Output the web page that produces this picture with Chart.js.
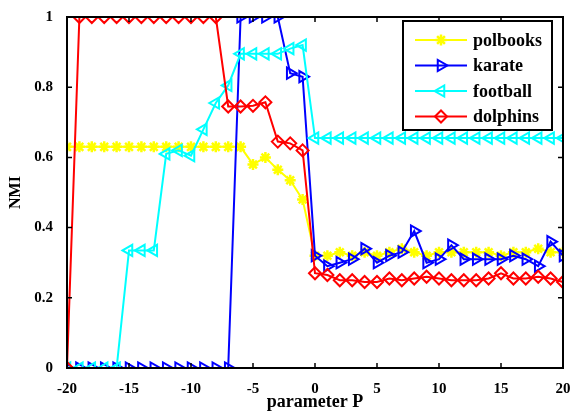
<!DOCTYPE html>
<html>
<head>
<meta charset="utf-8">
<script src="https://cdn.jsdelivr.net/npm/chart.js@4"></script>
<style>
  html, body { margin: 0; padding: 0; background: #fff; }
  #wrap { width: 579px; height: 417px; }
</style>
</head>
<body>
<div id="wrap"><canvas id="nmiChart" width="579" height="417"></canvas></div>
<script>
  const P = [-20, -19, -18, -17, -16, -15, -14, -13, -12, -11, -10, -9, -8, -7, -6, -5, -4, -3, -2, -1,
             0, 1, 2, 3, 4, 5, 6, 7, 8, 9, 10, 11, 12, 13, 14, 15, 16, 17, 18, 19, 20];

  const polbooks = [0.63, 0.63, 0.63, 0.63, 0.63, 0.63, 0.63, 0.63, 0.63, 0.63, 0.63, 0.63, 0.63, 0.63, 0.63,
                    0.58, 0.60, 0.565, 0.535, 0.48,
                    0.32, 0.32, 0.33, 0.32, 0.33, 0.32, 0.33, 0.34, 0.33, 0.32, 0.33, 0.33, 0.33, 0.33, 0.33,
                    0.32, 0.33, 0.33, 0.34, 0.33, 0.33];
  const karate = [0, 0, 0, 0, 0, 0, 0, 0, 0, 0, 0, 0, 0, 0,
                  1, 1, 1, 1, 0.84, 0.83,
                  0.32, 0.29, 0.30, 0.31, 0.34, 0.30, 0.32, 0.33, 0.39, 0.30, 0.31, 0.35, 0.31, 0.31, 0.31,
                  0.31, 0.32, 0.31, 0.29, 0.36, 0.32];
  const football = [0, 0, 0, 0, 0, 0.335, 0.335, 0.335,
                    0.61, 0.62, 0.605, 0.68, 0.755, 0.805, 0.895, 0.895, 0.895, 0.895, 0.91, 0.92,
                    0.655, 0.655, 0.655, 0.655, 0.655, 0.655, 0.655, 0.655, 0.655, 0.655, 0.655, 0.655,
                    0.655, 0.655, 0.655, 0.655, 0.655, 0.655, 0.655, 0.655, 0.655];
  const dolphins = [0, 1, 1, 1, 1, 1, 1, 1, 1, 1, 1, 1, 1,
                    0.745, 0.745, 0.747, 0.757, 0.645, 0.64, 0.62,
                    0.27, 0.265, 0.25, 0.25, 0.245, 0.245, 0.255, 0.25, 0.255, 0.26, 0.255, 0.25, 0.25,
                    0.25, 0.255, 0.27, 0.255, 0.255, 0.26, 0.255, 0.245];

  const xTicks = [-20, -15, -10, -5, 0, 5, 10, 15, 20];
  const yTicks = [0, 0.2, 0.4, 0.6, 0.8, 1];

  const serif = "'Liberation Serif', 'DejaVu Serif', serif";
  const pts = arr => arr.map((v, i) => ({ x: P[i], y: v }));

  // cadre + graduations vers l'intérieur + légende dans le graphe
  const framePlugin = {
    id: 'frame',
    afterDraw(chart) {
      const { ctx, chartArea: a, scales } = chart;
      ctx.save();
      ctx.strokeStyle = '#000';
      ctx.lineWidth = 2;
      ctx.strokeRect(a.left, a.top, a.right - a.left, a.bottom - a.top);
      ctx.lineWidth = 1.5;
      ctx.beginPath();
      xTicks.forEach(t => {
        const x = scales.x.getPixelForValue(t);
        ctx.moveTo(x, a.bottom); ctx.lineTo(x, a.bottom - 5);
        ctx.moveTo(x, a.top); ctx.lineTo(x, a.top + 5);
      });
      yTicks.forEach(t => {
        const y = scales.y.getPixelForValue(t);
        ctx.moveTo(a.left, y); ctx.lineTo(a.left + 5, y);
        ctx.moveTo(a.right, y); ctx.lineTo(a.right - 5, y);
      });
      ctx.stroke();

      // légende
      const bx = 403, by = 21, bw = 149, bh = 109;
      ctx.fillStyle = '#fff';
      ctx.fillRect(bx, by, bw, bh);
      ctx.lineWidth = 2;
      ctx.strokeRect(bx, by, bw, bh);
      chart.data.datasets.forEach((ds, i) => {
        const y = by + 19 + i * 25.5;
        ctx.strokeStyle = ds.borderColor;
        ctx.lineWidth = 2;
        ctx.beginPath();
        ctx.moveTo(415, y); ctx.lineTo(467, y);
        ctx.stroke();
        ctx.fillStyle = 'rgba(0,0,0,0)';
        ctx.lineWidth = ds.pointBorderWidth;
        Chart.helpers.drawPoint(ctx, {
          pointStyle: ds.pointStyle,
          rotation: ds.pointRotation || 0,
          radius: ds.pointRadius,
          borderWidth: ds.pointBorderWidth
        }, 441, y);
        ctx.fillStyle = '#000';
        ctx.font = "bold 18px " + serif;
        ctx.textBaseline = 'middle';
        ctx.fillText(ds.label, 473, y + 1);
      });
      ctx.restore();
    }
  };

  new Chart(document.getElementById('nmiChart'), {
    type: 'line',
    data: {
      datasets: [
        {
          label: 'polbooks', data: pts(polbooks), order: 4,
          borderColor: '#ffff00', backgroundColor: '#ffff00', borderWidth: 2,
          pointStyle: 'star', pointRadius: 5.5, pointBorderWidth: 2.5
        },
        {
          label: 'karate', data: pts(karate), order: 3,
          borderColor: '#0000ff', backgroundColor: 'rgba(0,0,0,0)', borderWidth: 2,
          pointStyle: 'triangle', pointRotation: 90, pointRadius: 6.5, pointBorderWidth: 2
        },
        {
          label: 'football', data: pts(football), order: 2,
          borderColor: '#00ffff', backgroundColor: 'rgba(0,0,0,0)', borderWidth: 2,
          pointStyle: 'triangle', pointRotation: -90, pointRadius: 6.5, pointBorderWidth: 2
        },
        {
          label: 'dolphins', data: pts(dolphins), order: 1,
          borderColor: '#ff0000', backgroundColor: 'rgba(0,0,0,0)', borderWidth: 2,
          pointStyle: 'rectRot', pointRadius: 6, pointBorderWidth: 2
        }
      ]
    },
    options: {
      responsive: false,
      animation: false,
      layout: { padding: { top: 17, right: 16, left: 0, bottom: 0 } },
      plugins: { legend: { display: false }, tooltip: { enabled: false } },
      elements: { line: { tension: 0 } },
      scales: {
        x: {
          type: 'linear', min: -20, max: 20,
          afterFit(s) { s.height = 49; },
          grid: { display: false }, border: { display: false },
          ticks: { stepSize: 5, autoSkip: false, maxRotation: 0, padding: 4, color: '#000',
                   font: { family: serif, size: 15, weight: 'bold' } },
          title: { display: true, text: 'parameter P', color: '#000', padding: { top: 4 },
                   font: { family: serif, size: 18, weight: 'bold' } }
        },
        y: {
          min: 0, max: 1,
          afterFit(s) { s.width = 67; },
          grid: { display: false }, border: { display: false },
          ticks: { stepSize: 0.2, padding: 6, color: '#000',
                   callback: v => String(Math.round(v * 10) / 10),
                   font: { family: serif, size: 15, weight: 'bold' } },
          title: { display: true, text: 'NMI', color: '#000', padding: { top: 6, bottom: 4 },
                   font: { family: serif, size: 16, weight: 'bold' } }
        }
      }
    },
    plugins: [framePlugin]
  });
</script>
</body>
</html>
